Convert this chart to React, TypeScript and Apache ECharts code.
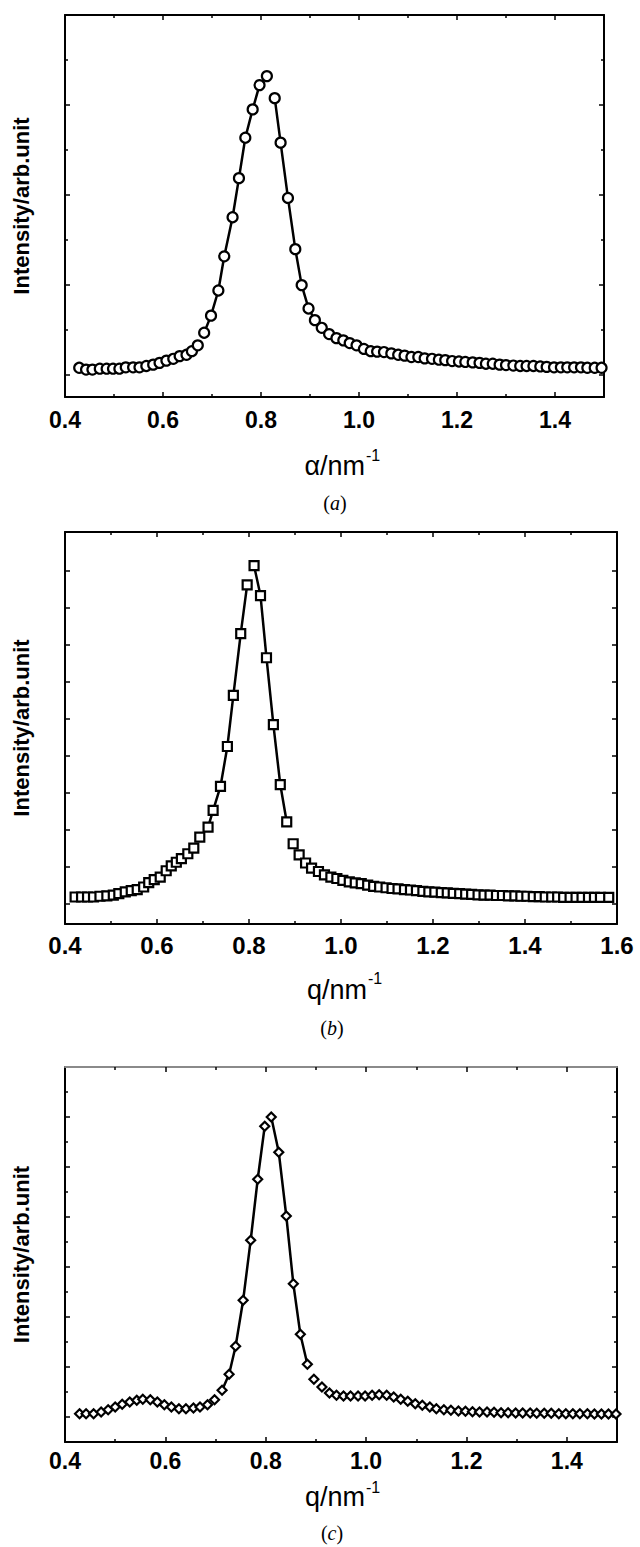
import React, { useEffect, useRef } from "react";
import * as echarts from "echarts";

// ---------- Panel (a) data ----------
const qA = [0.429, 0.443, 0.456, 0.471, 0.485, 0.498, 0.511, 0.524, 0.539, 0.552, 0.566, 0.58, 0.593, 0.607, 0.621, 0.634, 0.648, 0.659, 0.671, 0.684, 0.698, 0.713, 0.725, 0.742, 0.755, 0.768, 0.783, 0.797, 0.812, 0.828, 0.84, 0.855, 0.87, 0.883, 0.897, 0.91, 0.924, 0.939, 0.954, 0.968, 0.981, 0.995, 1.01, 1.024, 1.037, 1.051, 1.066, 1.08, 1.093, 1.107, 1.121, 1.134, 1.149, 1.163, 1.176, 1.19, 1.204, 1.217, 1.232, 1.246, 1.259, 1.273, 1.287, 1.3, 1.315, 1.329, 1.342, 1.356, 1.37, 1.383, 1.398, 1.412, 1.425, 1.439, 1.453, 1.466, 1.481, 1.495];
const iA = [0.15, 0.11, 0.11, 0.13, 0.13, 0.13, 0.13, 0.16, 0.16, 0.16, 0.19, 0.22, 0.26, 0.31, 0.35, 0.41, 0.44, 0.52, 0.65, 0.93, 1.31, 1.87, 2.63, 3.5, 4.37, 5.27, 5.9, 6.44, 6.64, 6.15, 5.16, 3.93, 2.79, 1.99, 1.47, 1.21, 1.04, 0.9, 0.81, 0.76, 0.7, 0.65, 0.57, 0.52, 0.51, 0.5, 0.47, 0.44, 0.42, 0.39, 0.39, 0.36, 0.35, 0.33, 0.32, 0.3, 0.29, 0.28, 0.27, 0.26, 0.24, 0.24, 0.22, 0.21, 0.2, 0.19, 0.19, 0.19, 0.18, 0.17, 0.16, 0.16, 0.16, 0.16, 0.16, 0.15, 0.15, 0.15];
const flanksA = [[19, 28], [29, 35]];

// ---------- Panel (b) data ----------
const qB = [0.422, 0.436, 0.449, 0.462, 0.476, 0.491, 0.505, 0.517, 0.531, 0.544, 0.557, 0.571, 0.582, 0.594, 0.607, 0.62, 0.631, 0.642, 0.653, 0.667, 0.68, 0.693, 0.711, 0.722, 0.738, 0.753, 0.766, 0.782, 0.796, 0.811, 0.825, 0.838, 0.853, 0.868, 0.882, 0.896, 0.909, 0.923, 0.936, 0.951, 0.964, 0.978, 0.991, 1.004, 1.018, 1.031, 1.044, 1.058, 1.071, 1.084, 1.098, 1.111, 1.124, 1.138, 1.151, 1.164, 1.178, 1.191, 1.204, 1.218, 1.231, 1.244, 1.258, 1.271, 1.284, 1.298, 1.311, 1.324, 1.338, 1.351, 1.364, 1.378, 1.391, 1.404, 1.418, 1.431, 1.444, 1.458, 1.471, 1.484, 1.498, 1.511, 1.524, 1.538, 1.551, 1.564, 1.582];
const iB = [0.18, 0.18, 0.18, 0.18, 0.2, 0.21, 0.23, 0.27, 0.32, 0.35, 0.38, 0.45, 0.57, 0.65, 0.72, 0.89, 1.02, 1.12, 1.22, 1.35, 1.5, 1.8, 2.07, 2.52, 3.17, 4.25, 5.63, 7.3, 8.62, 9.14, 8.33, 6.65, 4.84, 3.22, 2.21, 1.62, 1.32, 1.1, 0.96, 0.87, 0.78, 0.72, 0.68, 0.63, 0.59, 0.56, 0.54, 0.5, 0.47, 0.45, 0.43, 0.41, 0.4, 0.38, 0.37, 0.35, 0.33, 0.32, 0.31, 0.3, 0.29, 0.28, 0.27, 0.26, 0.25, 0.24, 0.23, 0.23, 0.22, 0.22, 0.21, 0.21, 0.2, 0.2, 0.19, 0.19, 0.18, 0.18, 0.18, 0.17, 0.17, 0.17, 0.17, 0.17, 0.17, 0.17, 0.17];
const flanksB = [[22, 28], [29, 34]];

// ---------- Panel (c) data ----------
const qC = [0.429, 0.442, 0.457, 0.472, 0.486, 0.5, 0.514, 0.529, 0.543, 0.555, 0.57, 0.584, 0.598, 0.612, 0.627, 0.641, 0.656, 0.669, 0.684, 0.698, 0.713, 0.727, 0.74, 0.755, 0.77, 0.784, 0.798, 0.811, 0.826, 0.841, 0.855, 0.869, 0.883, 0.896, 0.912, 0.927, 0.941, 0.955, 0.969, 0.984, 0.998, 1.012, 1.026, 1.041, 1.055, 1.069, 1.083, 1.098, 1.112, 1.127, 1.14, 1.155, 1.169, 1.184, 1.198, 1.212, 1.226, 1.241, 1.255, 1.269, 1.283, 1.298, 1.312, 1.327, 1.34, 1.355, 1.369, 1.384, 1.398, 1.412, 1.426, 1.441, 1.455, 1.469, 1.483, 1.498];
const iC = [0.13, 0.13, 0.13, 0.2, 0.29, 0.4, 0.51, 0.6, 0.67, 0.71, 0.69, 0.6, 0.49, 0.4, 0.33, 0.33, 0.36, 0.4, 0.49, 0.69, 1.07, 1.71, 2.83, 4.67, 7.07, 9.51, 11.63, 12.0, 10.59, 8.04, 5.33, 3.31, 2.11, 1.51, 1.2, 0.96, 0.87, 0.84, 0.84, 0.84, 0.84, 0.87, 0.89, 0.87, 0.8, 0.71, 0.63, 0.53, 0.47, 0.4, 0.33, 0.29, 0.27, 0.24, 0.23, 0.21, 0.2, 0.2, 0.19, 0.17, 0.17, 0.16, 0.16, 0.16, 0.15, 0.15, 0.15, 0.13, 0.13, 0.13, 0.13, 0.13, 0.12, 0.12, 0.12, 0.12];
const flanksC = [[20, 26], [27, 32]];

// ---------- Tick values ----------
const xLabels15 = [0.4, 0.6, 0.8, 1.0, 1.2, 1.4];
const xLabels16 = [0.4, 0.6, 0.8, 1.0, 1.2, 1.4, 1.6];
const xMajor15 = [0.6, 0.8, 1.0, 1.2, 1.4];
const xMinor15 = [0.5, 0.7, 0.9, 1.1, 1.3];
const xMajor16 = [0.6, 0.8, 1.0, 1.2, 1.4];
const xMinor16 = [0.5, 0.7, 0.9, 1.1, 1.3, 1.5];
const yMajorA = [0, 2, 4, 6];
const yMinorA = [1, 3, 5, 7];
const yMajorB = [0, 1, 2, 3, 4, 5, 6, 7, 8, 9];
const yMinorB: number[] = [];
const yMajorC = [0, 2, 4, 6, 8, 10, 12];
const yMinorC = [1, 3, 5, 7, 9, 11, 13];

const SANS = '"Liberation Sans", Arial, Helvetica, sans-serif';
const SERIF = '"Liberation Serif", "Times New Roman", serif';

const panels = [
  {
    q: qA, v: iA, flanks: flanksA, xMin: 0.4, xMax: 1.5, yMin: -0.5, yMax: 8,
    xLabels: xLabels15, xMajor: xMajor15, xMinor: xMinor15, yMajor: yMajorA, yMinor: yMinorA,
    symbol: "circle", symbolSize: 10,
    grid: { left: 65, top: 15, width: 539, height: 382 },
    labelSize: 23, labelMargin: 11, yNameSize: 22,
    title: "α/nm", titleX: 365, titleY: 466, supY: 455,
    caption: "a", capX: 335, capY: 503, topColor: "#000",
  },
  {
    q: qB, v: iB, flanks: flanksB, xMin: 0.4, xMax: 1.6, yMin: -0.55, yMax: 10.05,
    xLabels: xLabels16, xMajor: xMajor16, xMinor: xMinor16, yMajor: yMajorB, yMinor: yMinorB,
    symbol: "rect", symbolSize: 9,
    grid: { left: 65, top: 532, width: 552, height: 392 },
    labelSize: 24, labelMargin: 9, yNameSize: 22,
    title: "q/nm", titleX: 367, titleY: 990, supY: 978,
    caption: "b", capX: 332, capY: 1028, topColor: "#000",
  },
  {
    q: qC, v: iC, flanks: flanksC, xMin: 0.4, xMax: 1.5, yMin: -1, yMax: 14,
    xLabels: xLabels15, xMajor: xMajor15, xMinor: xMinor15, yMajor: yMajorC, yMinor: yMinorC,
    symbol: "diamond", symbolSize: 9,
    grid: { left: 65, top: 1067, width: 552, height: 375 },
    labelSize: 23, labelMargin: 7, yNameSize: 22,
    title: "q/nm", titleX: 365, titleY: 1497, supY: 1487,
    caption: "c", capX: 332, capY: 1533, topColor: "#8a8a8a",
  },
];

function tick(vals: number[], len: number) {
  return {
    show: vals.length > 0,
    inside: true,
    length: len,
    customValues: vals,
    lineStyle: { color: "#000", width: 1.5 },
  };
}

function line(color: string, show: boolean) {
  return { show, onZero: false, lineStyle: { color, width: 2 } };
}

export default function App() {
  const ref = useRef<HTMLDivElement>(null);

  useEffect(() => {
    if (!ref.current) return;
    const chart = echarts.init(ref.current, undefined, { renderer: "svg" });

    const grids: any[] = [];
    const xAxes: any[] = [];
    const yAxes: any[] = [];
    const series: any[] = [];
    const graphics: any[] = [];

    panels.forEach((p, g) => {
      grids.push({ ...p.grid, containLabel: false });
      const xb = { type: "value", gridIndex: g, min: p.xMin, max: p.xMax, splitLine: { show: false } };
      const yb = { type: "value", gridIndex: g, min: p.yMin, max: p.yMax, splitLine: { show: false } };
      xAxes.push(
        {
          ...xb, position: "bottom", axisLine: line("#000", true), axisTick: tick(p.xMajor, 5),
          axisLabel: {
            customValues: p.xLabels, formatter: (v: number) => v.toFixed(1),
            fontSize: p.labelSize, fontWeight: "bold", fontFamily: SANS, color: "#000", margin: p.labelMargin,
          },
        },
        { ...xb, position: "bottom", axisLine: line("#000", false), axisTick: tick(p.xMinor, 3), axisLabel: { show: false } },
        { ...xb, position: "top", axisLine: line(p.topColor, true), axisTick: tick(p.xMajor, 5), axisLabel: { show: false } },
        { ...xb, position: "top", axisLine: line("#000", false), axisTick: tick(p.xMinor, 3), axisLabel: { show: false } }
      );
      yAxes.push(
        {
          ...yb, position: "left", axisLine: line("#000", true), axisTick: tick(p.yMajor, 5), axisLabel: { show: false },
          name: "Intensity/arb.unit", nameLocation: "middle", nameGap: 33, nameRotate: 90,
          nameTextStyle: { fontSize: p.yNameSize, fontWeight: "bold", fontFamily: SANS, color: "#000" },
        },
        { ...yb, position: "left", axisLine: line("#000", false), axisTick: tick(p.yMinor, 3), axisLabel: { show: false } },
        { ...yb, position: "right", axisLine: line("#000", true), axisTick: tick(p.yMajor, 5), axisLabel: { show: false } },
        { ...yb, position: "right", axisLine: line("#000", false), axisTick: tick(p.yMinor, 3), axisLabel: { show: false } }
      );

      const pts = p.q.map((q, i) => [q, p.v[i]]);
      p.flanks.forEach(([a, b]) => {
        series.push({
          type: "line", xAxisIndex: g * 4, yAxisIndex: g * 4, data: pts.slice(a, b + 1),
          symbol: "none", lineStyle: { color: "#000", width: 2.5 }, z: 2, silent: true,
        });
      });
      series.push({
        type: "scatter", xAxisIndex: g * 4, yAxisIndex: g * 4, data: pts,
        symbol: p.symbol, symbolSize: p.symbolSize,
        itemStyle: { color: "#fff", borderColor: "#000", borderWidth: 2.2, opacity: 1 }, z: 3,
      });

      graphics.push(
        {
          type: "text", x: p.titleX, y: p.titleY,
          style: { text: p.title, font: `27px ${SANS}`, fill: "#000", textAlign: "right", textVerticalAlign: "middle" },
        },
        {
          type: "text", x: p.titleX + 1, y: p.supY,
          style: { text: "-1", font: `16px ${SANS}`, fill: "#000", textAlign: "left", textVerticalAlign: "middle" },
        },
        {
          type: "text", x: p.capX, y: p.capY,
          style: {
            text: `{n|(}{i|${p.caption}}{n|)}`,
            font: `20px ${SERIF}`,
            rich: {
              n: { font: `20px ${SERIF}`, fontSize: 20, fontFamily: SERIF, fill: "#000" },
              i: { font: `italic 20px ${SERIF}`, fontSize: 20, fontFamily: SERIF, fontStyle: "italic", fill: "#000" },
            },
            fill: "#000",
            textAlign: "center", textVerticalAlign: "middle",
          },
        }
      );
    });

    chart.setOption({
      animation: false,
      backgroundColor: "#fff",
      grid: grids,
      xAxis: xAxes,
      yAxis: yAxes,
      series,
      graphic: graphics,
    });

    return () => chart.dispose();
  }, []);

  return (
    <div
      ref={ref}
      style={{ position: "absolute", left: 0, top: 0, width: 640, height: 1547, background: "#fff" }}
    />
  );
}
